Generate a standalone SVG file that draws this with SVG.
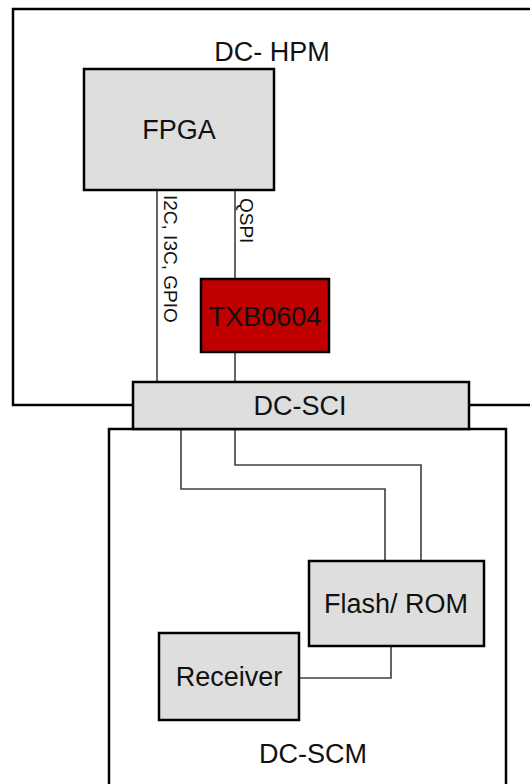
<svg xmlns="http://www.w3.org/2000/svg" width="530" height="784" viewBox="0 0 530 784">
<style>
.board{fill:#ffffff;stroke:#000000;stroke-width:2.5}
.box{fill:#dedede;stroke:#000000;stroke-width:2.5}
.red{fill:#c00000;stroke:#000000;stroke-width:2.5}
.wire{fill:none;stroke:#404040;stroke-width:1.6}
.lbl{font-family:"Liberation Sans",Arial,sans-serif;font-size:27px;fill:#111111;text-anchor:middle}
.bus{font-family:"Liberation Sans",Arial,sans-serif;font-size:19px;fill:#111111}
</style>
<rect width="530" height="784" fill="#ffffff"/>
<g id="dc-hpm">
<rect class="board" x="13" y="9" width="540" height="396"/>
<text class="lbl" x="272" y="61">DC- HPM</text>
</g>
<g id="dc-scm">
<rect class="board" x="109" y="429" width="397" height="380"/>
<text class="lbl" x="313" y="763">DC-SCM</text>
</g>
<g id="connectors">
<line class="wire" x1="157" y1="190" x2="157" y2="382"/>
<line class="wire" x1="235" y1="190" x2="235" y2="279"/>
<line class="wire" x1="235" y1="352" x2="235" y2="382"/>
<polyline class="wire" points="181,429 181,489 385,489 385,561"/>
<polyline class="wire" points="235,429 235,465 421,465 421,561"/>
<polyline class="wire" points="391,646 391,678 299,678"/>
<text class="bus" transform="translate(164,195) rotate(90)">I2C, I3C, GPIO</text>
<text class="bus" transform="translate(240,198) rotate(90)">QSPI</text>
</g>
<g id="fpga">
<rect class="box" x="84" y="69" width="190" height="121"/>
<text class="lbl" x="179" y="139">FPGA</text>
</g>
<g id="txb0604">
<rect class="red" x="201" y="279" width="128" height="73"/>
<text class="lbl" x="265" y="326">TXB0604</text>
</g>
<g id="dc-sci">
<rect class="box" x="133" y="382" width="336" height="47"/>
<text class="lbl" x="300" y="415">DC-SCI</text>
</g>
<g id="flash-rom">
<rect class="box" x="309" y="561" width="175" height="85"/>
<text class="lbl" x="396" y="613">Flash/ ROM</text>
</g>
<g id="receiver">
<rect class="box" x="159" y="633" width="140" height="87"/>
<text class="lbl" x="229" y="686">Receiver</text>
</g>
</svg>
